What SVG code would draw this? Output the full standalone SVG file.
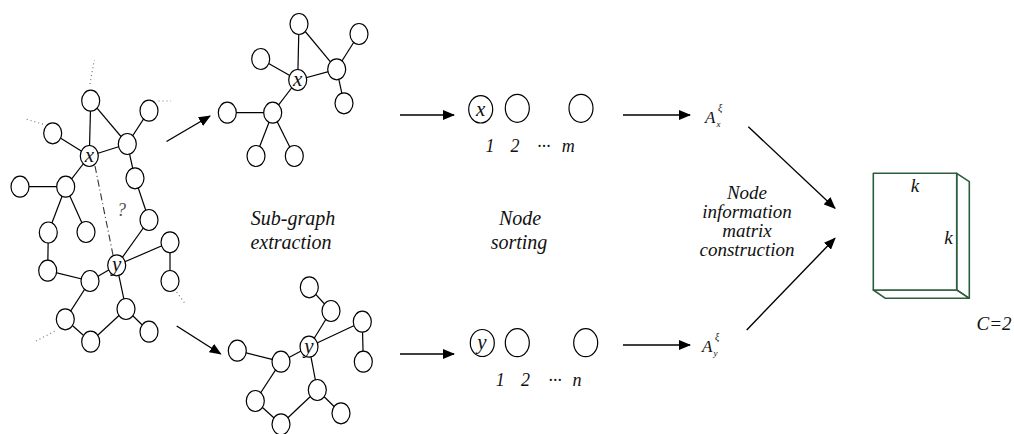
<svg xmlns="http://www.w3.org/2000/svg" width="1014" height="434" viewBox="0 0 1014 434" font-family="'Liberation Serif', 'Times New Roman', Times, 'DejaVu Serif', serif">
  <style>
    .edge { stroke: #000; stroke-width: 1.2; fill: none; }
    .dots { stroke: #777; stroke-width: 1.2; stroke-dasharray: 1 3; fill: none; }
    .dashdot { stroke: #333; stroke-width: 1.1; stroke-dasharray: 7 3 1 3; fill: none; }
    .nd { fill: #fff; stroke: #000; stroke-width: 1.2; }
    .arrow { stroke: #000; stroke-width: 1.4; fill: none; marker-end: url(#head); }
    text { font-style: italic; fill: #111; }
    .cap { font-size: 20px; text-anchor: middle; }
    .cap2 { font-size: 19px; text-anchor: middle; }
    .var { font-size: 21px; text-anchor: middle; }
    .idx { font-size: 18px; text-anchor: middle; }
    .box { fill: #fff; stroke: #2d5e3c; stroke-width: 1.6; stroke-linejoin: round; }
  </style>
  <defs>
    <marker id="head" markerUnits="userSpaceOnUse" markerWidth="12" markerHeight="10" refX="11" refY="5" orient="auto">
      <path d="M0,0 L12,5 L0,10 Z" fill="#000"/>
    </marker>
  </defs>

  <!-- full graph: edges -->
  <g id="graph-edges">
    <line class="edge" x1="90.7" y1="100.7" x2="89.3" y2="156"/>
    <line class="edge" x1="90.7" y1="100.7" x2="127.3" y2="144"/>
    <line class="edge" x1="149" y1="110.7" x2="127.3" y2="144"/>
    <line class="edge" x1="52.7" y1="133.3" x2="89.3" y2="156"/>
    <line class="edge" x1="89.3" y1="156" x2="127.3" y2="144"/>
    <line class="edge" x1="89.3" y1="156" x2="65.7" y2="186.7"/>
    <line class="edge" x1="65.7" y1="186.7" x2="20" y2="186.7"/>
    <line class="edge" x1="65.7" y1="186.7" x2="48.3" y2="232.5"/>
    <line class="edge" x1="65.7" y1="186.7" x2="86" y2="232"/>
    <line class="edge" x1="127.3" y1="144" x2="135" y2="178.3"/>
    <line class="edge" x1="135" y1="178.3" x2="149" y2="220"/>
    <line class="edge" x1="149" y1="220" x2="116.7" y2="265.3"/>
    <line class="edge" x1="48.3" y1="232.5" x2="47.7" y2="270.7"/>
    <line class="edge" x1="47.7" y1="270.7" x2="90" y2="281"/>
    <line class="edge" x1="90" y1="281" x2="116.7" y2="265.3"/>
    <line class="edge" x1="116.7" y1="265.3" x2="170" y2="242.3"/>
    <line class="edge" x1="170" y1="242.3" x2="170" y2="281"/>
    <line class="edge" x1="116.7" y1="265.3" x2="126" y2="309"/>
    <line class="edge" x1="90" y1="281" x2="65.3" y2="319.3"/>
    <line class="edge" x1="65.3" y1="319.3" x2="90.7" y2="341.7"/>
    <line class="edge" x1="90.7" y1="341.7" x2="126" y2="309"/>
    <line class="edge" x1="126" y1="309" x2="149" y2="331.7"/>
    <!-- links to the rest of the network -->
    <line class="dots" x1="90" y1="84" x2="94.3" y2="60"/>
    <line class="dots" x1="158.5" y1="101" x2="171" y2="101"/>
    <line class="dots" x1="26.7" y1="119.3" x2="44" y2="124.5"/>
    <line class="dots" x1="176.7" y1="292" x2="185" y2="303.5"/>
    <line class="dots" x1="36" y1="341" x2="57" y2="330"/>
    <!-- candidate link x–y -->
    <line class="dashdot" x1="95" y1="166" x2="113" y2="255"/>
  </g>

  <!-- full graph: nodes -->
  <g id="graph-nodes">
    <ellipse class="nd" cx="90.7" cy="100.7" rx="9" ry="10.5"/>
    <ellipse class="nd" cx="149" cy="110.7" rx="9" ry="10.5"/>
    <ellipse class="nd" cx="52.7" cy="133.3" rx="9" ry="10.5"/>
    <ellipse class="nd" cx="127.3" cy="144" rx="9" ry="10.5"/>
    <ellipse class="nd" cx="135" cy="178.3" rx="9" ry="10.5"/>
    <ellipse class="nd" cx="65.7" cy="186.7" rx="9" ry="10.5"/>
    <ellipse class="nd" cx="20" cy="186.7" rx="9" ry="10.5"/>
    <ellipse class="nd" cx="48.3" cy="232.5" rx="9" ry="10.5"/>
    <ellipse class="nd" cx="86" cy="232" rx="9" ry="10.5"/>
    <ellipse class="nd" cx="149" cy="220" rx="9" ry="10.5"/>
    <ellipse class="nd" cx="170" cy="242.3" rx="9" ry="10.5"/>
    <ellipse class="nd" cx="47.7" cy="270.7" rx="9" ry="10.5"/>
    <ellipse class="nd" cx="90" cy="281" rx="9" ry="10.5"/>
    <ellipse class="nd" cx="170" cy="281" rx="9" ry="10.5"/>
    <ellipse class="nd" cx="126" cy="309" rx="9" ry="10.5"/>
    <ellipse class="nd" cx="65.3" cy="319.3" rx="9" ry="10.5"/>
    <ellipse class="nd" cx="90.7" cy="341.7" rx="9" ry="10.5"/>
    <ellipse class="nd" cx="149" cy="331.7" rx="9" ry="10.5"/>
  </g>
  <g id="graph-x">
    <ellipse class="nd" cx="89.3" cy="156" rx="9" ry="10.5"/>
    <text class="var" x="89.3" y="162">x</text>
  </g>
  <g id="graph-y">
    <ellipse class="nd" cx="116.7" cy="265.3" rx="9" ry="10.5"/>
    <text class="var" x="116.7" y="271">y</text>
  </g>
  <text x="121.5" y="216" font-size="18" text-anchor="middle" style="fill:#555">?</text>

  <!-- sub-graph around x -->
  <g id="subgraph-x">
    <line class="edge" x1="299" y1="24" x2="297.7" y2="80"/>
    <line class="edge" x1="299" y1="24" x2="336.7" y2="69.3"/>
    <line class="edge" x1="359" y1="34" x2="336.7" y2="69.3"/>
    <line class="edge" x1="260.7" y1="59" x2="297.7" y2="80"/>
    <line class="edge" x1="297.7" y1="80" x2="336.7" y2="69.3"/>
    <line class="edge" x1="336.7" y1="69.3" x2="344" y2="103.3"/>
    <line class="edge" x1="297.7" y1="80" x2="272.7" y2="112.7"/>
    <line class="edge" x1="272.7" y1="112.7" x2="227.3" y2="112.7"/>
    <line class="edge" x1="272.7" y1="112.7" x2="256" y2="156"/>
    <line class="edge" x1="272.7" y1="112.7" x2="294.3" y2="156"/>
    <ellipse class="nd" cx="299" cy="24" rx="9" ry="10.5"/>
    <ellipse class="nd" cx="359" cy="34" rx="9" ry="10.5"/>
    <ellipse class="nd" cx="260.7" cy="59" rx="9" ry="10.5"/>
    <ellipse class="nd" cx="336.7" cy="69.3" rx="9" ry="10.5"/>
    <ellipse class="nd" cx="344" cy="103.3" rx="9" ry="10.5"/>
    <ellipse class="nd" cx="272.7" cy="112.7" rx="9" ry="10.5"/>
    <ellipse class="nd" cx="227.3" cy="112.7" rx="9" ry="10.5"/>
    <ellipse class="nd" cx="256" cy="156" rx="9" ry="10.5"/>
    <ellipse class="nd" cx="294.3" cy="156" rx="9" ry="10.5"/>
    <ellipse class="nd" cx="297.7" cy="80" rx="9" ry="10.5"/>
    <text class="var" x="297.7" y="86">x</text>
  </g>

  <!-- sub-graph around y -->
  <g id="subgraph-y">
    <line class="edge" x1="309.3" y1="287.3" x2="331" y2="311"/>
    <line class="edge" x1="331" y1="311" x2="309" y2="346.7"/>
    <line class="edge" x1="309" y1="346.7" x2="362.3" y2="321.7"/>
    <line class="edge" x1="362.3" y1="321.7" x2="363.3" y2="361.7"/>
    <line class="edge" x1="309" y1="346.7" x2="281" y2="361.7"/>
    <line class="edge" x1="281" y1="361.7" x2="237.3" y2="350.7"/>
    <line class="edge" x1="309" y1="346.7" x2="317.3" y2="390"/>
    <line class="edge" x1="317.3" y1="390" x2="341" y2="413.3"/>
    <line class="edge" x1="281" y1="361.7" x2="255.3" y2="401"/>
    <line class="edge" x1="255.3" y1="401" x2="281" y2="424.3"/>
    <line class="edge" x1="281" y1="424.3" x2="317.3" y2="390"/>
    <ellipse class="nd" cx="309.3" cy="287.3" rx="9" ry="10.5"/>
    <ellipse class="nd" cx="331" cy="311" rx="9" ry="10.5"/>
    <ellipse class="nd" cx="362.3" cy="321.7" rx="9" ry="10.5"/>
    <ellipse class="nd" cx="237.3" cy="350.7" rx="9" ry="10.5"/>
    <ellipse class="nd" cx="281" cy="361.7" rx="9" ry="10.5"/>
    <ellipse class="nd" cx="363.3" cy="361.7" rx="9" ry="10.5"/>
    <ellipse class="nd" cx="317.3" cy="390" rx="9" ry="10.5"/>
    <ellipse class="nd" cx="255.3" cy="401" rx="9" ry="10.5"/>
    <ellipse class="nd" cx="341" cy="413.3" rx="9" ry="10.5"/>
    <ellipse class="nd" cx="281" cy="424.3" rx="9" ry="10.5"/>
    <ellipse class="nd" cx="309" cy="346.7" rx="9" ry="10.5"/>
    <text class="var" x="309" y="352.5">y</text>
  </g>

  <!-- sorted node sequence for x -->
  <g id="order-x">
    <ellipse class="nd" cx="480.7" cy="109.3" rx="12" ry="13.7"/>
    <text class="var" x="480.7" y="115.5" font-size="20">x</text>
    <ellipse class="nd" cx="517.3" cy="108.3" rx="12" ry="14"/>
    <ellipse class="nd" cx="581" cy="108.3" rx="12" ry="14"/>
    <text class="idx" x="490" y="152">1</text>
    <text class="idx" x="515" y="152">2</text>
    <text class="idx" x="543.7" y="152">···</text>
    <text class="idx" x="568.3" y="152">m</text>
  </g>

  <!-- sorted node sequence for y -->
  <g id="order-y">
    <ellipse class="nd" cx="482.3" cy="343" rx="12" ry="13.5"/>
    <text class="var" x="482" y="348.5" font-size="20">y</text>
    <ellipse class="nd" cx="517.3" cy="342.7" rx="12" ry="14"/>
    <ellipse class="nd" cx="585.7" cy="342.7" rx="12" ry="14"/>
    <text class="idx" x="500.3" y="386">1</text>
    <text class="idx" x="525.5" y="386">2</text>
    <text class="idx" x="555" y="386">···</text>
    <text class="idx" x="577" y="386">n</text>
  </g>

  <!-- information matrices -->
  <g id="matrix-x">
    <text x="705" y="122.5" font-size="17">A</text>
    <text x="716.5" y="127" font-size="9">x</text>
    <text x="718" y="111" font-size="10">ξ</text>
  </g>
  <g id="matrix-y">
    <text x="702" y="351.5" font-size="17">A</text>
    <text x="713.5" y="356" font-size="9">y</text>
    <text x="715" y="340" font-size="10">ξ</text>
  </g>

  <!-- k x k x C tensor -->
  <g id="tensor">
    <polygon class="box" points="956.7,173.3 969.3,181.7 969.3,298.3 956.7,290"/>
    <polygon class="box" points="873.3,290 956.7,290 969.3,298.3 885.5,298.3" stroke-width="2"/>
    <rect class="box" x="873.3" y="173.3" width="83.4" height="116.7"/>
    <text x="915" y="191.5" font-size="19" text-anchor="middle">k</text>
    <text x="948.5" y="243.5" font-size="19" text-anchor="middle">k</text>
    <text x="994" y="330" font-size="19" text-anchor="middle">C=2</text>
  </g>

  <!-- stage captions -->
  <g id="captions">
    <text class="cap" x="293" y="225">Sub-graph</text>
    <text class="cap" x="291" y="249">extraction</text>
    <text class="cap" x="520" y="225">Node</text>
    <text class="cap" x="519" y="249">sorting</text>
    <text class="cap2" x="747" y="199">Node</text>
    <text class="cap2" x="747" y="218">information</text>
    <text class="cap2" x="747" y="237">matrix</text>
    <text class="cap2" x="747" y="256">construction</text>
  </g>

  <!-- process arrows -->
  <g id="connectors">
    <line class="arrow" x1="166.5" y1="141.5" x2="210" y2="116"/>
    <line class="arrow" x1="176.7" y1="326" x2="220.7" y2="354"/>
    <line class="arrow" x1="400" y1="115" x2="454" y2="115"/>
    <line class="arrow" x1="400" y1="354" x2="454" y2="354"/>
    <line class="arrow" x1="623" y1="115" x2="690" y2="115"/>
    <line class="arrow" x1="623" y1="345" x2="690" y2="345"/>
    <line class="arrow" x1="748.3" y1="126.7" x2="835" y2="208.3"/>
    <line class="arrow" x1="746.7" y1="330" x2="835" y2="238.3"/>
  </g>
</svg>
